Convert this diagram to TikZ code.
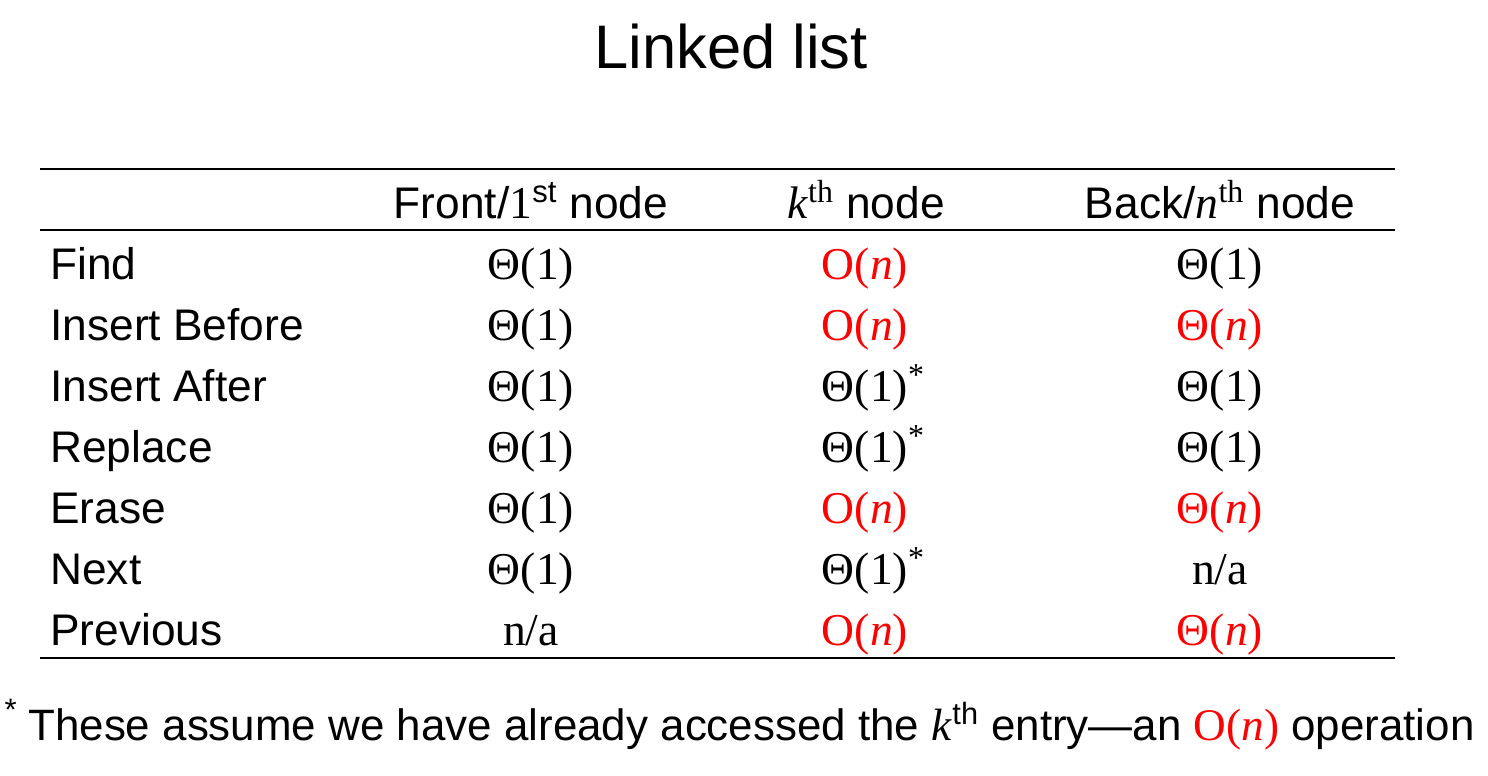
\documentclass[tikz,border=0pt]{standalone}
\usepackage{fontspec}
\setmainfont{Liberation Sans}
\newfontfamily\tnr[Scale=1.03]{Liberation Serif}
\usepackage{xcolor}
\definecolor{costred}{RGB}{255,0,0}

\newcommand{\thone}{{\tnr Θ(1)}}
\newcommand{\thstar}{{\tnr Θ(1)\rlap{\textsuperscript{*}}}}
\newcommand{\bigo}{{\tnr\color{costred}O(\textit{n})}}
\newcommand{\thn}{{\tnr\color{costred}Θ(\textit{n})}}
\newcommand{\nota}{{\tnr n/a}}

\begin{document}
\begin{tikzpicture}[x=0.02cm, y=-0.02cm,
    cell/.style={anchor=base, inner sep=0pt, font=\fontsize{25.2}{30}\selectfont},
    oplabel/.style={cell, anchor=base west},
    rule/.style={line width=1.3pt}]
    \useasboundingbox (0,0) rectangle (1488,775);

    % Título
    \node[anchor=base, inner sep=0pt, font=\fontsize{35}{42}\selectfont] (title) at (731,68) {Linked list};

    % Líneas de la tabla
    \coordinate (topL) at (40,169);  \coordinate (topR) at (1395,169);
    \coordinate (midL) at (40,230);  \coordinate (midR) at (1395,230);
    \coordinate (botL) at (40,658);  \coordinate (botR) at (1395,658);
    \draw[rule] (topL) -- (topR);
    \draw[rule] (midL) -- (midR);
    \draw[rule] (botL) -- (botR);

    % Encabezado
    \node[cell] (front) at (531,218) {Front/{\tnr 1}\textsuperscript{st} node};
    \node[cell] (kth) at (866,218) {{\tnr\textit{k}\textsuperscript{th}} node};
    \node[cell] (back) at (1220,218) {Back/{\tnr\textit{n}\textsuperscript{th}} node};

    % Filas
    \foreach \r/\op/\a/\b/\c in {0/Find/\thone/\bigo/\thone,
        1/Insert Before/\thone/\bigo/\thn,
        2/Insert After/\thone/\thstar/\thone,
        3/Replace/\thone/\thstar/\thone,
        4/Erase/\thone/\bigo/\thn,
        5/Next/\thone/\thstar/\nota,
        6/Previous/\nota/\bigo/\thn} {
        \node[oplabel] (op\r) at (50,279+61*\r) {\op};
        \node[cell] (front\r) at (531,279+61*\r) {\a};
        \node[cell] (kth\r) at (865,279+61*\r) {\b};
        \node[cell] (back\r) at (1220,279+61*\r) {\c};
    }

    % Nota
    \node[oplabel, font=\fontsize{25}{30}\selectfont] (note) at (28,740) {These assume we have already accessed the {\tnr\textit{k}}\textsuperscript{th} entry—an \bigo{} operation};
    \node[cell] (star) at (11,736) {\textsuperscript{*}};
\end{tikzpicture}
\end{document}
